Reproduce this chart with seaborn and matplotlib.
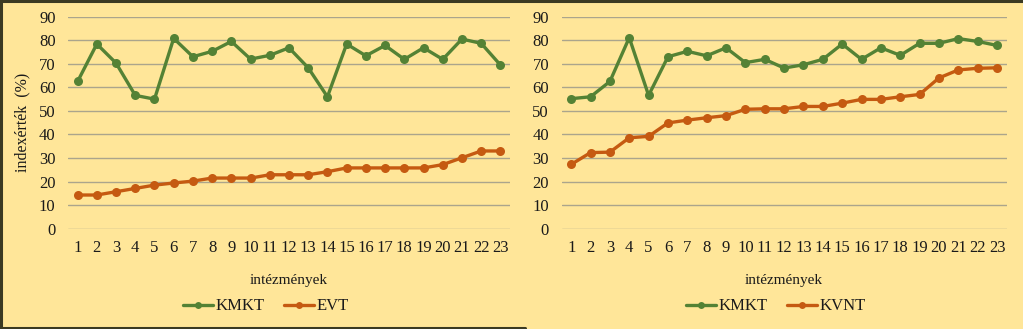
import matplotlib
matplotlib.use("Agg")
import matplotlib.pyplot as plt
from matplotlib.lines import Line2D
import seaborn as sns
import pandas as pd

# Institutions 1..23
intezmenyek = list(range(1, 24))

# Left panel: KMKT vs EVT index values (%)
kmkt_bal = [62.5, 78.4, 70.3, 56.6, 55.0, 80.8, 73.0, 75.3, 79.5, 72.0, 73.6, 76.8,
            68.3, 56.0, 78.4, 73.4, 77.8, 71.9, 76.8, 71.9, 80.5, 78.7, 69.5]
evt = [14.3, 14.3, 15.7, 17.1, 18.5, 19.4, 20.2, 21.5, 21.5, 21.5, 22.9, 22.9,
       22.9, 24.2, 25.8, 25.8, 25.8, 25.8, 25.8, 27.2, 30.1, 33.0, 33.0]

# Right panel: KMKT vs KVNT index values (%)
kmkt_jobb = [55.2, 56.0, 62.5, 81.1, 56.6, 73.0, 75.3, 73.4, 76.8, 70.5, 71.9, 68.2,
             69.6, 71.9, 78.4, 71.9, 76.8, 73.6, 78.7, 78.7, 80.7, 79.5, 77.8]
kvnt = [27.3, 32.3, 32.5, 38.6, 39.2, 44.9, 46.1, 47.1, 48.0, 50.7, 50.9, 50.9,
        51.9, 51.9, 53.3, 54.9, 54.9, 56.0, 57.0, 64.0, 67.4, 68.1, 68.3]

y_ticks = list(range(0, 100, 10))

BG = "#FFE699"
GREEN = "#548235"
ORANGE = "#C55A11"
GRID = "#ABA58C"
TEXT = "#1A1A1A"
FRAME = "#3B3A22"

sns.set_theme(style="white")
plt.rcParams["font.family"] = ["Liberation Serif", "DejaVu Serif"]

W, H = 1023, 329
fig = plt.figure(figsize=(W / 100, H / 100), dpi=100, facecolor=BG)


def long_form(a_name, a_vals, b_name, b_vals):
    return pd.DataFrame({
        "intezmeny": intezmenyek * 2,
        "ertek": a_vals + b_vals,
        "sorozat": [a_name] * len(a_vals) + [b_name] * len(b_vals),
    })


def draw_panel(rect, df, names, ylabel, legend_center_x):
    ax = fig.add_axes(rect)
    ax.set_facecolor(BG)
    sns.lineplot(data=df, x="intezmeny", y="ertek", hue="sorozat",
                 hue_order=names, palette=[GREEN, ORANGE], marker="o",
                 markersize=6.5, markeredgewidth=0, linewidth=2.4, ax=ax,
                 legend=True)
    handles, labels = ax.get_legend_handles_labels()
    for h in handles:
        h.set_markersize(5)
    ax.get_legend().remove()
    ax.set_xlim(0.5, 23.5)
    ax.set_ylim(0, 90)
    ax.set_yticks(y_ticks)
    ax.set_xticks(intezmenyek)
    ax.grid(axis="y", color=GRID, linewidth=1.0)
    ax.grid(axis="x", visible=False)
    ax.set_axisbelow(True)
    for s in ax.spines.values():
        s.set_visible(False)
    ax.tick_params(axis="both", length=0, labelsize=12, colors=TEXT)
    ax.tick_params(axis="y", pad=9)
    ax.tick_params(axis="x", pad=8)
    ax.set_xlabel("intézmények", fontsize=11, color=TEXT, labelpad=13)
    ax.set_ylabel(ylabel, fontsize=11.5, color=TEXT, labelpad=6)
    fig.legend(handles, labels, loc="center",
               bbox_to_anchor=(legend_center_x, (H - 306.5) / H),
               ncol=2, frameon=False, fontsize=12, handlelength=1.8,
               handletextpad=0.15, columnspacing=1.2, labelcolor=TEXT)
    return ax


draw_panel([68 / W, (H - 228.7) / H, (510 - 68) / W, 212 / H],
           long_form("KMKT", kmkt_bal, "EVT", evt),
           ["KMKT", "EVT"], "indexérték  (%)", 266 / W)
draw_panel([561.5 / W, (H - 228.7) / H, (1006.7 - 561.5) / W, 212 / H],
           long_form("KMKT", kmkt_jobb, "KVNT", kvnt),
           ["KMKT", "KVNT"], "", 776 / W)

# Frame lines around the left panel and along the top edge
px = fig.transFigure
for xs, ys in [((0, 1), (1 - 0.5 / H, 1 - 0.5 / H)),
               ((1 / W, 1 / W), (0, 1)),
               ((0, 525 / W), (1 / H, 1 / H))]:
    fig.add_artist(Line2D(xs, ys, transform=px, color=FRAME, linewidth=2.2))

fig.savefig("out.png", dpi=100, facecolor=BG)
